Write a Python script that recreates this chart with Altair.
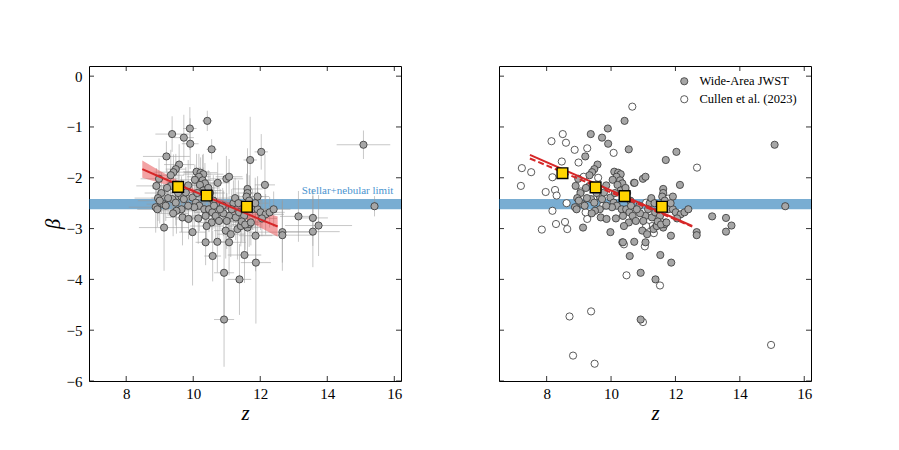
import altair as alt
import pandas as pd

# ---------------- data ----------------
gray_z = [10.42, 9.90, 9.37, 9.72, 9.91, 10.55, 12.03, 9.20, 15.08, 11.70,
          9.58, 9.48, 9.41, 9.33, 10.10, 10.22, 10.30, 10.17, 10.05, 10.28,
          10.35, 10.20, 10.73, 10.99, 11.07, 11.62, 11.62, 11.59, 11.67, 12.14,
          8.98, 8.90, 9.05, 8.95, 8.88, 8.93, 9.11, 9.18, 9.38, 9.48,
          9.65, 9.72, 9.78, 9.98, 10.08, 10.18, 10.33, 10.47, 10.57, 10.67,
          10.77, 9.65, 9.68, 9.86, 9.13, 9.98, 10.37, 10.72, 11.07, 10.97,
          11.12, 11.32, 11.42, 11.62, 11.67, 11.86, 11.07, 11.27, 11.37, 11.52,
          11.77, 11.92, 12.01, 12.16, 12.28, 12.66, 12.66, 13.14, 13.57, 13.57,
          13.74, 15.41, 10.58, 11.53, 11.87, 10.92, 11.38, 10.92, 9.33, 10.03,
          10.37, 11.92, 10.88, 10.30, 10.50, 10.60, 11.20, 11.25, 9.85, 10.90,
          11.45, 11.55, 11.72, 12.05, 10.55, 9.50, 9.22, 10.12, 9.00, 9.25,
          9.55, 9.85, 10.45, 10.62, 10.80, 11.00, 11.15, 11.35, 11.85, 12.40,
          9.40, 10.15, 10.40]
gray_beta = [-0.88, -1.03, -1.14, -1.21, -1.33, -1.44, -1.49, -1.58, -1.35, -1.65,
             -1.74, -1.83, -1.89, -1.95, -1.88, -1.90, -1.93, -1.98, -2.04, -2.05,
             -2.11, -2.14, -2.10, -2.02, -1.98, -2.22, -2.30, -2.37, -2.45, -2.14,
             -2.02, -2.16, -2.30, -2.40, -2.58, -2.62, -2.52, -2.55, -2.42, -2.49,
             -2.37, -2.42, -2.29, -2.39, -2.49, -2.55, -2.62, -2.62, -2.68, -2.75,
             -2.85, -2.62, -2.78, -2.81, -2.98, -3.07, -3.27, -3.26, -3.27, -3.04,
             -3.11, -3.01, -2.95, -2.98, -2.91, -3.14, -2.75, -2.78, -2.68, -2.75,
             -2.62, -2.62, -2.68, -2.72, -2.68, -3.07, -3.13, -2.76, -2.79, -3.06,
             -2.94, -2.56, -3.54, -3.52, -3.67, -3.87, -4.00, -4.79, -2.16, -2.58,
             -2.75, -2.37, -2.55, -2.25, -2.30, -2.45, -2.50, -2.40, -2.55, -2.70,
             -2.86, -2.92, -2.88, -2.80, -2.88, -2.65, -2.20, -2.30, -2.45, -2.40,
             -2.30, -2.15, -2.20, -2.55, -2.62, -2.85, -2.62, -2.50, -2.50, -2.62,
             -2.70, -2.80, -2.95]
gray_zerr = [0.15, 0.20, 0.50, 0.30, 0.25, 0.15, 0.20, 0.70, 0.80, 0.20,
             0.45, 0.30, 0.60, 0.40, 0.40, 0.50, 0.60, 0.35, 0.45, 0.30,
             0.50, 0.40, 0.35, 0.50, 0.40, 0.45, 0.35, 0.50, 0.40, 0.30,
             0.55, 0.60, 0.50, 0.70, 0.80, 0.60, 0.50, 0.45, 0.40, 0.55,
             0.50, 0.35, 0.40, 0.60, 0.50, 0.45, 0.60, 0.40, 0.55, 0.50,
             0.45, 0.35, 0.50, 0.40, 0.75, 0.40, 0.30, 0.45, 0.50, 0.35,
             0.40, 0.50, 0.45, 0.40, 0.35, 0.50, 0.55, 0.40, 0.50, 0.35,
             0.45, 0.40, 0.50, 0.55, 0.45, 1.00, 0.90, 0.55, 0.45, 0.80,
             1.00, 0.10, 0.25, 0.50, 0.45, 0.30, 0.35, 0.30, 0.40, 0.45,
             0.50, 0.35, 0.40, 0.55, 0.45, 0.50, 0.40, 0.60, 0.45, 0.35,
             0.50, 0.40, 0.55, 0.45, 0.40, 0.50, 0.45, 0.60, 0.65, 0.50,
             0.40, 0.45, 0.35, 0.50, 0.45, 0.40, 0.55, 0.45, 0.40, 0.50,
             0.45, 0.40, 0.50]
gray_berr = [0.20, 0.42, 0.35, 0.45, 0.50, 0.20, 0.35, 0.30, 0.28, 0.85,
             0.40, 0.30, 0.35, 0.50, 0.35, 0.30, 0.40, 0.45, 0.30, 0.50,
             0.40, 0.35, 0.40, 0.45, 0.35, 0.80, 0.60, 0.45, 0.50, 0.60,
             0.40, 0.35, 0.40, 0.45, 0.50, 0.35, 0.40, 0.30, 0.35, 0.45,
             0.40, 0.30, 0.50, 0.45, 0.35, 0.50, 0.40, 0.45, 0.35, 0.50,
             0.40, 0.45, 0.55, 0.40, 0.85, 1.05, 0.45, 0.60, 0.65, 0.55,
             0.45, 0.60, 0.40, 0.50, 0.45, 0.70, 0.40, 0.45, 0.35, 0.50,
             0.40, 0.45, 0.35, 0.40, 0.30, 0.60, 0.70, 0.50, 0.55, 0.70,
             0.60, 0.20, 0.50, 0.55, 1.20, 0.90, 0.70, 0.93, 0.40, 0.45,
             0.50, 0.40, 0.35, 0.45, 0.40, 0.50, 0.45, 0.40, 0.35, 0.45,
             0.40, 0.50, 0.45, 0.35, 0.40, 0.45, 0.35, 0.40, 0.45, 0.35,
             0.40, 0.50, 0.35, 0.45, 0.40, 0.55, 0.40, 0.45, 0.50, 0.35,
             0.45, 0.50, 0.40]

cullen_z = [10.66, 8.50, 8.15, 8.60, 8.87, 9.26, 10.08, 8.99, 8.47, 7.23,
            7.52, 12.67, 7.20, 8.18, 7.97, 8.26, 8.31, 8.62, 8.18, 7.85,
            8.29, 8.57, 8.64, 9.26, 9.06, 9.21, 9.75, 10.35, 11.28, 11.33,
            11.09, 11.28, 11.77, 11.69, 10.71, 11.09, 11.05, 11.52, 10.48, 11.52,
            8.71, 9.38, 10.99, 8.82, 9.49, 14.97, 10.40, 9.60, 9.15, 11.40]
cullen_beta = [-0.60, -1.14, -1.28, -1.31, -1.45, -1.42, -1.51, -1.70, -1.68, -1.81,
               -1.89, -1.80, -2.16, -1.99, -2.28, -2.24, -2.35, -2.50, -2.65, -3.02,
               -2.91, -2.87, -3.01, -2.81, -2.27, -2.68, -2.55, -3.27, -2.95, -3.09,
               -2.49, -2.47, -2.41, -2.88, -2.10, -2.95, -3.35, -2.85, -3.92, -4.12,
               -4.73, -4.63, -4.84, -5.50, -5.66, -5.29, -3.31, -2.00, -1.98, -2.95]

bin_z_left = [9.55, 10.40, 11.60]
bin_beta_left = [-2.18, -2.35, -2.57]
bin_z_right = [8.49, 9.52, 10.42, 11.58]
bin_beta_right = [-1.91, -2.19, -2.36, -2.57]

fit_z = [8.48, 9.0, 9.5, 10.0, 10.4, 11.0, 11.5, 12.0, 12.52]
fit_beta = [-1.83, -1.98, -2.12, -2.26, -2.37, -2.54, -2.68, -2.82, -2.96]
fit_hi = [-1.66, -1.86, -2.04, -2.21, -2.33, -2.47, -2.57, -2.66, -2.76]
fit_lo = [-2.00, -2.10, -2.20, -2.31, -2.41, -2.61, -2.79, -2.98, -3.16]

right_fit_z = [7.48, 12.52]
right_fit_beta = [-1.55, -2.95]
right_fit2_beta = [-1.62, -2.96]

limit_lo, limit_hi = -2.62, -2.42
x_ticks = [8, 10, 12, 14, 16]
y_ticks = [0, -1, -2, -3, -4, -5, -6]

# ---------------- styling ----------------
FONT = "Liberation Serif"
W, H = 312, 315
TL = 5  # inward tick length

gray_df = pd.DataFrame({"z": gray_z, "beta": gray_beta,
                        "zerr": gray_zerr, "berr": gray_berr})
ys = alt.Scale(domain=[-6.0, 0.2], nice=False, zero=False)


def xaxis():
    return alt.Axis(values=x_ticks, ticks=False, domain=False, grid=False,
                    labelFont=FONT, labelFontSize=15, labelPadding=5,
                    labelColor="black", title="z", titleFont=FONT,
                    titleFontSize=21, titleFontStyle="italic",
                    titleFontWeight="normal", titlePadding=1, titleColor="black")


def frame(xs, yaxis):
    xt = pd.DataFrame({"t": x_ticks})
    yt = pd.DataFrame({"t": y_ticks})
    bot = alt.Chart(xt).mark_rule(color="black", strokeWidth=0.8).encode(
        x=alt.X("t:Q", scale=xs, axis=xaxis()),
        y=alt.value(H), y2=alt.value(H - TL))
    top = alt.Chart(xt).mark_rule(color="black", strokeWidth=0.8).encode(
        x=alt.X("t:Q", scale=xs, axis=xaxis()),
        y=alt.value(0), y2=alt.value(TL))
    left = alt.Chart(yt).mark_rule(color="black", strokeWidth=0.8).encode(
        y=alt.Y("t:Q", scale=ys, axis=yaxis),
        x=alt.value(0), x2=alt.value(TL))
    right = alt.Chart(yt).mark_rule(color="black", strokeWidth=0.8).encode(
        y=alt.Y("t:Q", scale=ys, axis=yaxis),
        x=alt.value(W - TL), x2=alt.value(W))
    return [bot, top, left, right]


def limit_band():
    return alt.Chart(pd.DataFrame({"lo": [limit_lo], "hi": [limit_hi]})).mark_rect(
        color="#1f77b4", opacity=0.6).encode(
        x=alt.value(0), x2=alt.value(W),
        y=alt.Y("lo:Q", scale=ys), y2="hi:Q")


# ---------------- left panel ----------------
xs_l = alt.Scale(domain=[6.89, 16.2], nice=False, zero=False)
yax_l = alt.Axis(values=y_ticks, ticks=False, domain=False, grid=False,
                 labelFont=FONT, labelFontSize=15, labelPadding=7,
                 labelColor="black", title="β", titleFont=FONT,
                 titleFontSize=21, titleFontStyle="italic",
                 titleFontWeight="normal", titlePadding=3, titleColor="black")

base_l = alt.Chart(gray_df)
xerr = base_l.transform_calculate(
    z0="datum.z - datum.zerr", z1="datum.z + datum.zerr").mark_rule(
    color="#9a9a9a", opacity=0.55, strokeWidth=1, clip=True).encode(
    x=alt.X("z0:Q", scale=xs_l), x2="z1:Q", y=alt.Y("beta:Q", scale=ys))
yerr = base_l.transform_calculate(
    b0="datum.beta - datum.berr", b1="datum.beta + datum.berr").mark_rule(
    color="#9a9a9a", opacity=0.55, strokeWidth=1, clip=True).encode(
    x=alt.X("z:Q", scale=xs_l), y=alt.Y("b0:Q", scale=ys), y2="b1:Q")
pts_l = base_l.mark_point(filled=True, shape="circle", size=52, fill="#a6a6a6",
                          stroke="#333333", strokeWidth=0.8, opacity=1).encode(
    x=alt.X("z:Q", scale=xs_l), y=alt.Y("beta:Q", scale=ys))

fit_df = pd.DataFrame({"z": fit_z, "beta": fit_beta, "lo": fit_lo, "hi": fit_hi})
fit_band = alt.Chart(fit_df).mark_area(color="#e8474a", opacity=0.5).encode(
    x=alt.X("z:Q", scale=xs_l), y=alt.Y("lo:Q", scale=ys), y2="hi:Q")
fit_line = alt.Chart(fit_df).mark_line(color="#d62728", strokeWidth=2).encode(
    x=alt.X("z:Q", scale=xs_l), y=alt.Y("beta:Q", scale=ys))
bins_l = alt.Chart(pd.DataFrame({"z": bin_z_left, "beta": bin_beta_left})).mark_point(
    shape="square", filled=True, size=115, fill="#ffd400", stroke="black",
    strokeWidth=1.4, opacity=1).encode(
    x=alt.X("z:Q", scale=xs_l), y=alt.Y("beta:Q", scale=ys))
label = alt.Chart(pd.DataFrame({"z": [15.97], "beta": [-2.26],
                                "t": ["Stellar+nebular limit"]})).mark_text(
    align="right", baseline="middle", font=FONT, fontSize=11,
    color="#4a94cf").encode(
    x=alt.X("z:Q", scale=xs_l), y=alt.Y("beta:Q", scale=ys), text="t:N")

left = alt.layer(limit_band(), xerr, yerr, fit_band, pts_l, fit_line, bins_l, label,
                 *frame(xs_l, yax_l)).properties(width=W, height=H)

# ---------------- right panel ----------------
xs_r = alt.Scale(domain=[6.52, 16.21], nice=False, zero=False)
series = ["Wide-Area JWST", "Cullen et al. (2023)"]
all_df = pd.concat([
    pd.DataFrame({"z": cullen_z, "beta": cullen_beta, "s": series[1]}),
    pd.DataFrame({"z": gray_z, "beta": gray_beta, "s": series[0]}),
], ignore_index=True)
pts_r = alt.Chart(all_df).mark_point(filled=True, shape="circle", size=52,
                                     stroke="#333333", strokeWidth=0.8,
                                     opacity=1).encode(
    x=alt.X("z:Q", scale=xs_r), y=alt.Y("beta:Q", scale=ys),
    fill=alt.Fill("s:N", scale=alt.Scale(domain=series, range=["#a6a6a6", "white"]),
                  legend=alt.Legend(title=None, orient="none", legendX=179,
                                    legendY=9, padding=0, labelFont=FONT,
                                    labelFontSize=12.5, labelColor="black",
                                    symbolType="circle", symbolSize=52,
                                    symbolStrokeColor="#333333",
                                    symbolStrokeWidth=0.8, symbolOpacity=1,
                                    rowPadding=5, labelOffset=9)))

rfit_df = pd.DataFrame({"z": right_fit_z, "beta": right_fit_beta, "b2": right_fit2_beta})
rline = alt.Chart(rfit_df).mark_line(color="#d62728", strokeWidth=2).encode(
    x=alt.X("z:Q", scale=xs_r), y=alt.Y("beta:Q", scale=ys))
rline2 = alt.Chart(rfit_df).mark_line(color="#d62728", strokeWidth=2,
                                      strokeDash=[6, 3]).encode(
    x=alt.X("z:Q", scale=xs_r), y=alt.Y("b2:Q", scale=ys))
bins_r = alt.Chart(pd.DataFrame({"z": bin_z_right, "beta": bin_beta_right})).mark_point(
    shape="square", filled=True, size=115, fill="#ffd400", stroke="black",
    strokeWidth=1.4, opacity=1).encode(
    x=alt.X("z:Q", scale=xs_r), y=alt.Y("beta:Q", scale=ys))

yax_r = alt.Axis(values=y_ticks, ticks=False, domain=False, grid=False,
                 labels=False, title="")
right = alt.layer(limit_band(), pts_r, rline, rline2, bins_r,
                  *frame(xs_r, yax_r)).properties(width=W, height=H)

chart = alt.hconcat(left, right, spacing=95).resolve_scale(
    fill="independent").resolve_legend(fill="independent").properties(
    padding={"left": 33, "top": 57, "right": 5, "bottom": 5}
).configure(background="white").configure_view(stroke="black", strokeWidth=1)

chart.save("out.html", embed_options={"renderer": "svg", "actions": False})
